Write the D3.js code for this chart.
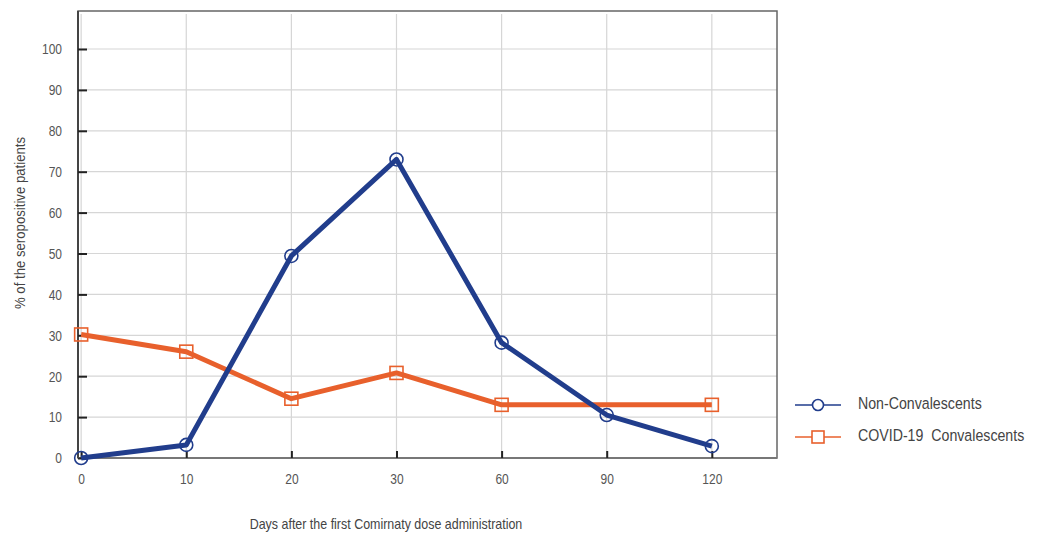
<!DOCTYPE html>
<html><head><meta charset="utf-8">
<script src="https://cdn.jsdelivr.net/npm/d3@7"></script>
<style>body{margin:0;background:#fff}svg{display:block}text{font-family:"Liberation Sans",Arial,sans-serif}</style>
</head><body>
<script>
const categories = ["0","10","20","30","60","90","120"];
const nonConvalescents = [0, 3.2, 49.4, 73, 28.2, 10.5, 2.9];
const covidConvalescents = [30.2, 26, 14.5, 20.8, 13, 13, 13];
const covidMarkerShown = [true, true, true, true, true, false, true];
const yTicks = [0,10,20,30,40,50,60,70,80,90,100];
const seriesNames = ["Non-Convalescents", "COVID-19  Convalescents"];
const xTitle = "Days after the first Comirnaty dose administration";
const yTitle = "% of the seropositive patients";

const W = 1038, H = 533;
const pL = 78, pR = 777, pT = 11, pB = 458;
const svg = d3.select("body").append("svg").attr("width", W).attr("height", H);

// condense text horizontally (narrow-font look)
function condense(sel, f) {
  sel.each(function() {
    const w = this.getComputedTextLength();
    d3.select(this).attr("textLength", w * f).attr("lengthAdjust", "spacingAndGlyphs");
  });
}

const x = d3.scaleLinear().domain([-0.03, 6.62]).range([pL, pR]);
const y = d3.scaleLinear().domain([0, 100]).range([pB, 49]);
const idx = categories.map((c,i)=>i);

// gridlines
svg.append("g").selectAll("line").data(yTicks.filter(d=>d>0)).join("line")
  .attr("x1", pL).attr("x2", pR).attr("y1", d=>y(d)).attr("y2", d=>y(d))
  .attr("stroke", "#d6d6d6").attr("stroke-width", 1.2);
svg.append("g").selectAll("line").data(idx).join("line")
  .attr("x1", d=>x(d)).attr("x2", d=>x(d)).attr("y1", pT+3).attr("y2", pB)
  .attr("stroke", "#d6d6d6").attr("stroke-width", 1.2);

// frame
svg.append("rect").attr("x", pL).attr("y", pT).attr("width", pR-pL).attr("height", pB-pT)
  .attr("fill", "none").attr("stroke", "#666").attr("stroke-width", 1.5);
svg.append("line").attr("x1", pL).attr("x2", pL).attr("y1", pT).attr("y2", pB)
  .attr("stroke", "#444").attr("stroke-width", 2);
svg.append("line").attr("x1", pL).attr("x2", pR).attr("y1", pB).attr("y2", pB)
  .attr("stroke", "#777").attr("stroke-width", 2);

// y axis
const yAxis = d3.axisLeft(y).tickValues(yTicks).tickSize(-9).tickPadding(16);
const gy = svg.append("g").attr("transform", `translate(${pL},0)`).call(yAxis);
gy.select(".domain").remove();
gy.selectAll(".tick line").attr("stroke", "#222").attr("stroke-width", 2);
gy.selectAll(".tick text").attr("fill", "#555").attr("font-size", 15).attr("font-family", "Liberation Sans, Arial, sans-serif").call(condense, 0.8);

// x axis
const xAxis = d3.axisBottom(x).tickValues(idx).tickFormat(i=>categories[i]).tickSize(-7).tickPadding(15);
const gx = svg.append("g").attr("transform", `translate(0,${pB})`).call(xAxis);
gx.select(".domain").remove();
gx.selectAll(".tick line").attr("stroke", "#222").attr("stroke-width", 2);
gx.selectAll(".tick text").attr("fill", "#555").attr("font-size", 15).attr("font-family", "Liberation Sans, Arial, sans-serif").call(condense, 0.8);

// titles
svg.append("text").attr("x", 386).attr("y", 529).attr("text-anchor", "middle")
  .attr("font-size", 15).attr("fill", "#444").text(xTitle).call(condense, 0.83);
svg.append("text").attr("transform", "translate(25,223) rotate(-90)").attr("text-anchor", "middle")
  .attr("font-size", 15.5).attr("fill", "#444").text(yTitle).call(condense, 0.85);

const blue = "#213d8c", orange = "#e8602c";
const line = d3.line().x((d,i)=>x(i)).y(d=>y(d));

svg.append("path").datum(covidConvalescents).attr("d", line).attr("fill","none")
  .attr("stroke", orange).attr("stroke-width", 5).attr("stroke-linejoin","round");
svg.append("g").selectAll("rect").data(covidConvalescents.map((v,i)=>({v,i})).filter(d=>covidMarkerShown[d.i])).join("rect")
  .attr("x", d=>x(d.i)-6.5).attr("y", d=>y(d.v)-6.5).attr("width", 13).attr("height", 13)
  .attr("fill", "none").attr("stroke", orange).attr("stroke-width", 1.6);

svg.append("path").datum(nonConvalescents).attr("d", line).attr("fill","none")
  .attr("stroke", blue).attr("stroke-width", 5).attr("stroke-linejoin","round");
svg.append("g").selectAll("circle").data(nonConvalescents).join("circle")
  .attr("cx", (d,i)=>x(i)).attr("cy", d=>y(d)).attr("r", 6.5)
  .attr("fill", "none").attr("stroke", blue).attr("stroke-width", 1.6);

// legend
const leg = svg.append("g");
const legY = [405, 437];
leg.append("line").attr("x1", 795).attr("x2", 841).attr("y1", legY[0]).attr("y2", legY[0]).attr("stroke", blue).attr("stroke-width", 1.3);
leg.append("circle").attr("cx", 818).attr("cy", legY[0]).attr("r", 5.5).attr("fill", "#fff").attr("stroke", blue).attr("stroke-width", 1.6);
leg.append("line").attr("x1", 795).attr("x2", 841).attr("y1", legY[1]).attr("y2", legY[1]).attr("stroke", orange).attr("stroke-width", 1.3);
leg.append("rect").attr("x", 812).attr("y", legY[1]-6).attr("width", 12).attr("height", 12).attr("fill", "#fff").attr("stroke", orange).attr("stroke-width", 1.6);
leg.selectAll("text").data(seriesNames).join("text")
  .attr("transform", (d,i)=>`translate(858,${legY[i]+4}) scale(0.86,1)`)
  .attr("font-size", 16.5).attr("fill", "#444")
  .style("white-space", "pre").text(d=>d);
</script>
</body></html>
